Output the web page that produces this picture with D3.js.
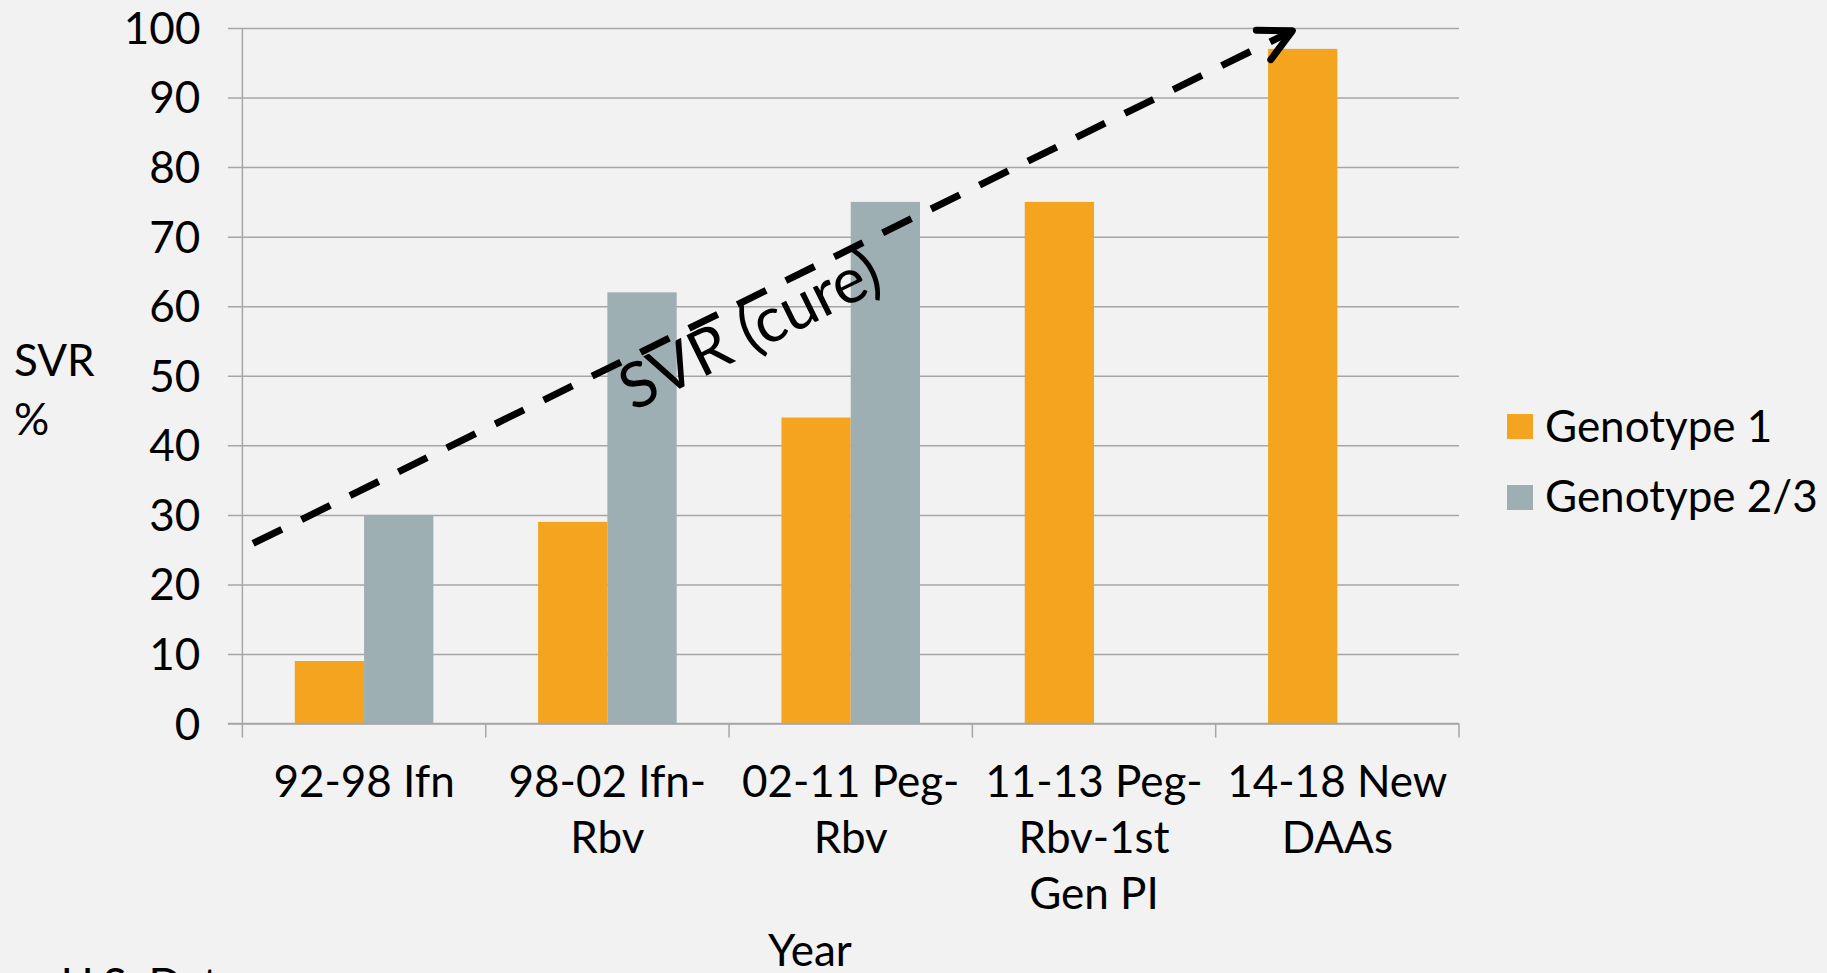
<!DOCTYPE html>
<html>
<head>
<meta charset="utf-8">
<script src="https://cdn.jsdelivr.net/npm/d3@7"></script>
<style>
  html, body { margin: 0; padding: 0; background: #F2F2F2; overflow: hidden; }
  svg { display: block; }
  text { font-family: "Lato", "Open Sans", sans-serif; fill: #000; }
</style>
</head>
<body>
<svg id="chart" width="1827" height="973"></svg>
<script>
// ---- data ----
const categories = ["92-98 Ifn", "98-02 Ifn-Rbv", "02-11 Peg-Rbv", "11-13 Peg-Rbv-1st Gen PI", "14-18 New DAAs"];
const categoryLines = [
  ["92-98 Ifn"],
  ["98-02 Ifn-", "Rbv"],
  ["02-11 Peg-", "Rbv"],
  ["11-13 Peg-", "Rbv-1st", "Gen PI"],
  ["14-18 New", "DAAs"]
];
const seriesNames = ["Genotype 1", "Genotype 2/3"];
const genotype1 = [9, 29, 44, 75, 97];
const genotype23 = [30, 62, 75, null, null];
const yTicks = [0, 10, 20, 30, 40, 50, 60, 70, 80, 90, 100];
const yLabel = ["SVR", "%"];
const xLabel = "Year";
const footnote = "U.S. Data";
// annotation arrow in data units (category position, value)
const arrowStart = { pos: 0.044, value: 25.9 };
const arrowEnd = { pos: 4.315, value: 99.6 };
const arrowText = "SVR (cure)";
const arrowTextAt = 0.466;

const colors = { "Genotype 1": "#F5A420", "Genotype 2/3": "#9EAFB4" };

(function draw() {
const svg = d3.select("#chart");
const mLeft = 242.4, mRight = 1459, mTop = 28, mBottom = 723.6;

const x = d3.scaleBand().domain(categories).range([mLeft, mRight]).paddingInner(0).paddingOuter(0);
const xSub = d3.scaleBand().domain(seriesNames).range([0, x.bandwidth()]).paddingInner(0).paddingOuter(0.756);
const xPos = d3.scaleLinear().domain([0, categories.length]).range([mLeft, mRight]);
const y = d3.scaleLinear().domain([0, 100]).range([mBottom, mTop]);

const gridColor = "#A6A6A6";

// gridlines + y axis ticks
const yAxis = d3.axisLeft(y).tickValues(yTicks).tickSize(-(mRight - mLeft)).tickSizeOuter(0).tickPadding(0).tickFormat(d => d);
const gy = svg.append("g").attr("transform", `translate(${mLeft},0)`).call(yAxis);
gy.select(".domain").remove();
gy.selectAll(".tick line").attr("stroke", gridColor).attr("stroke-width", 1.5).attr("x1", -14.5);
gy.selectAll(".tick text").attr("x", -42).attr("dy", "0.35em")
  .style("font-family", "Lato").style("font-size", "44px").attr("fill", "#000");

// y axis vertical line
svg.append("line").attr("x1", mLeft).attr("x2", mLeft).attr("y1", mTop).attr("y2", mBottom + 14)
  .attr("stroke", gridColor).attr("stroke-width", 1.5);

// category boundary ticks
const bounds = d3.range(categories.length + 1).map(i => xPos(i));
svg.append("g").selectAll("line").data(bounds.slice(1)).join("line")
  .attr("x1", d => d).attr("x2", d => d).attr("y1", mBottom).attr("y2", mBottom + 14)
  .attr("stroke", gridColor).attr("stroke-width", 1.5);

// bars
const rows = categories.map((c, i) => ({ c, vals: [
  { s: seriesNames[0], v: genotype1[i] },
  { s: seriesNames[1], v: genotype23[i] }
]}));
const gBars = svg.append("g");
rows.forEach(r => {
  gBars.selectAll(null).data(r.vals.filter(d => d.v != null)).join("rect")
    .attr("x", d => x(r.c) + xSub(d.s))
    .attr("width", xSub.bandwidth())
    .attr("y", d => y(d.v))
    .attr("height", d => y(0) - y(d.v))
    .attr("fill", d => colors[d.s]);
});

// bottom axis line redrawn on top
svg.append("line").attr("x1", mLeft - 14.5).attr("x2", mRight).attr("y1", y(0)).attr("y2", y(0))
  .attr("stroke", gridColor).attr("stroke-width", 1.5);

// category labels
const gx = svg.append("g");
categoryLines.forEach((lines, i) => {
  const t = gx.append("text").attr("text-anchor", "middle").style("font-size", "44px");
  lines.forEach((ln, j) => {
    t.append("tspan").attr("x", x(categories[i]) + x.bandwidth() / 2).attr("y", mBottom + 73.5 + j * 56).text(ln);
  });
});

// axis titles
const yl = svg.append("text").style("font-size", "44px");
yl.append("tspan").attr("x", 14).attr("y", 376).text(yLabel[0]);
yl.append("tspan").attr("x", 14).attr("y", 435).text(yLabel[1]);
svg.append("text").attr("x", 810).attr("y", 966).attr("text-anchor", "middle").style("font-size", "44px").text(xLabel);
svg.append("text").attr("x", 61).attr("y", 1000).style("font-size", "44px").text(footnote);

// legend
const lg = svg.append("g");
seriesNames.forEach((s, i) => {
  lg.append("rect").attr("x", 1507).attr("y", 414 + i * 71).attr("width", 26).attr("height", 25).attr("fill", colors[s]);
  lg.append("text").attr("x", 1545).attr("y", 441.5 + i * 70).style("font-size", "44px").text(s);
});

// annotation arrow
const x0 = xPos(arrowStart.pos), y0 = y(arrowStart.value);
const x1 = xPos(arrowEnd.pos), y1 = y(arrowEnd.value);
svg.append("line").attr("x1", x0).attr("y1", y0).attr("x2", x1 - 4).attr("y2", y1 + 2)
  .attr("stroke", "#000").attr("stroke-width", 7).attr("stroke-dasharray", "32,22");
const ang = Math.atan2(y0 - y1, x0 - x1);
const armLen = 36, spread = 27 * Math.PI / 180;
const arm = a => [x1 + armLen * Math.cos(ang + a), y1 + armLen * Math.sin(ang + a)];
const pts = [arm(-spread), [x1, y1], arm(spread)];
svg.append("path").attr("d", d3.line()(pts)).attr("fill", "none").attr("stroke", "#000")
  .attr("stroke-width", 7).attr("stroke-linecap", "round").attr("stroke-linejoin", "round");

// annotation text
const deg = Math.atan2(y1 - y0, x1 - x0) * 180 / Math.PI;
const len = Math.hypot(x1 - x0, y1 - y0);
const ux = (x1 - x0) / len, uy = (y1 - y0) / len;
const nx = -uy, ny = ux;
const cx = x0 + ux * len * arrowTextAt + nx * 50;
const cy = y0 + uy * len * arrowTextAt + ny * 50;
svg.append("text").attr("transform", `translate(${cx},${cy}) rotate(${deg})`)
  .attr("text-anchor", "middle").style("font-size", "63px").text(arrowText);
})();
</script>
</body>
</html>
